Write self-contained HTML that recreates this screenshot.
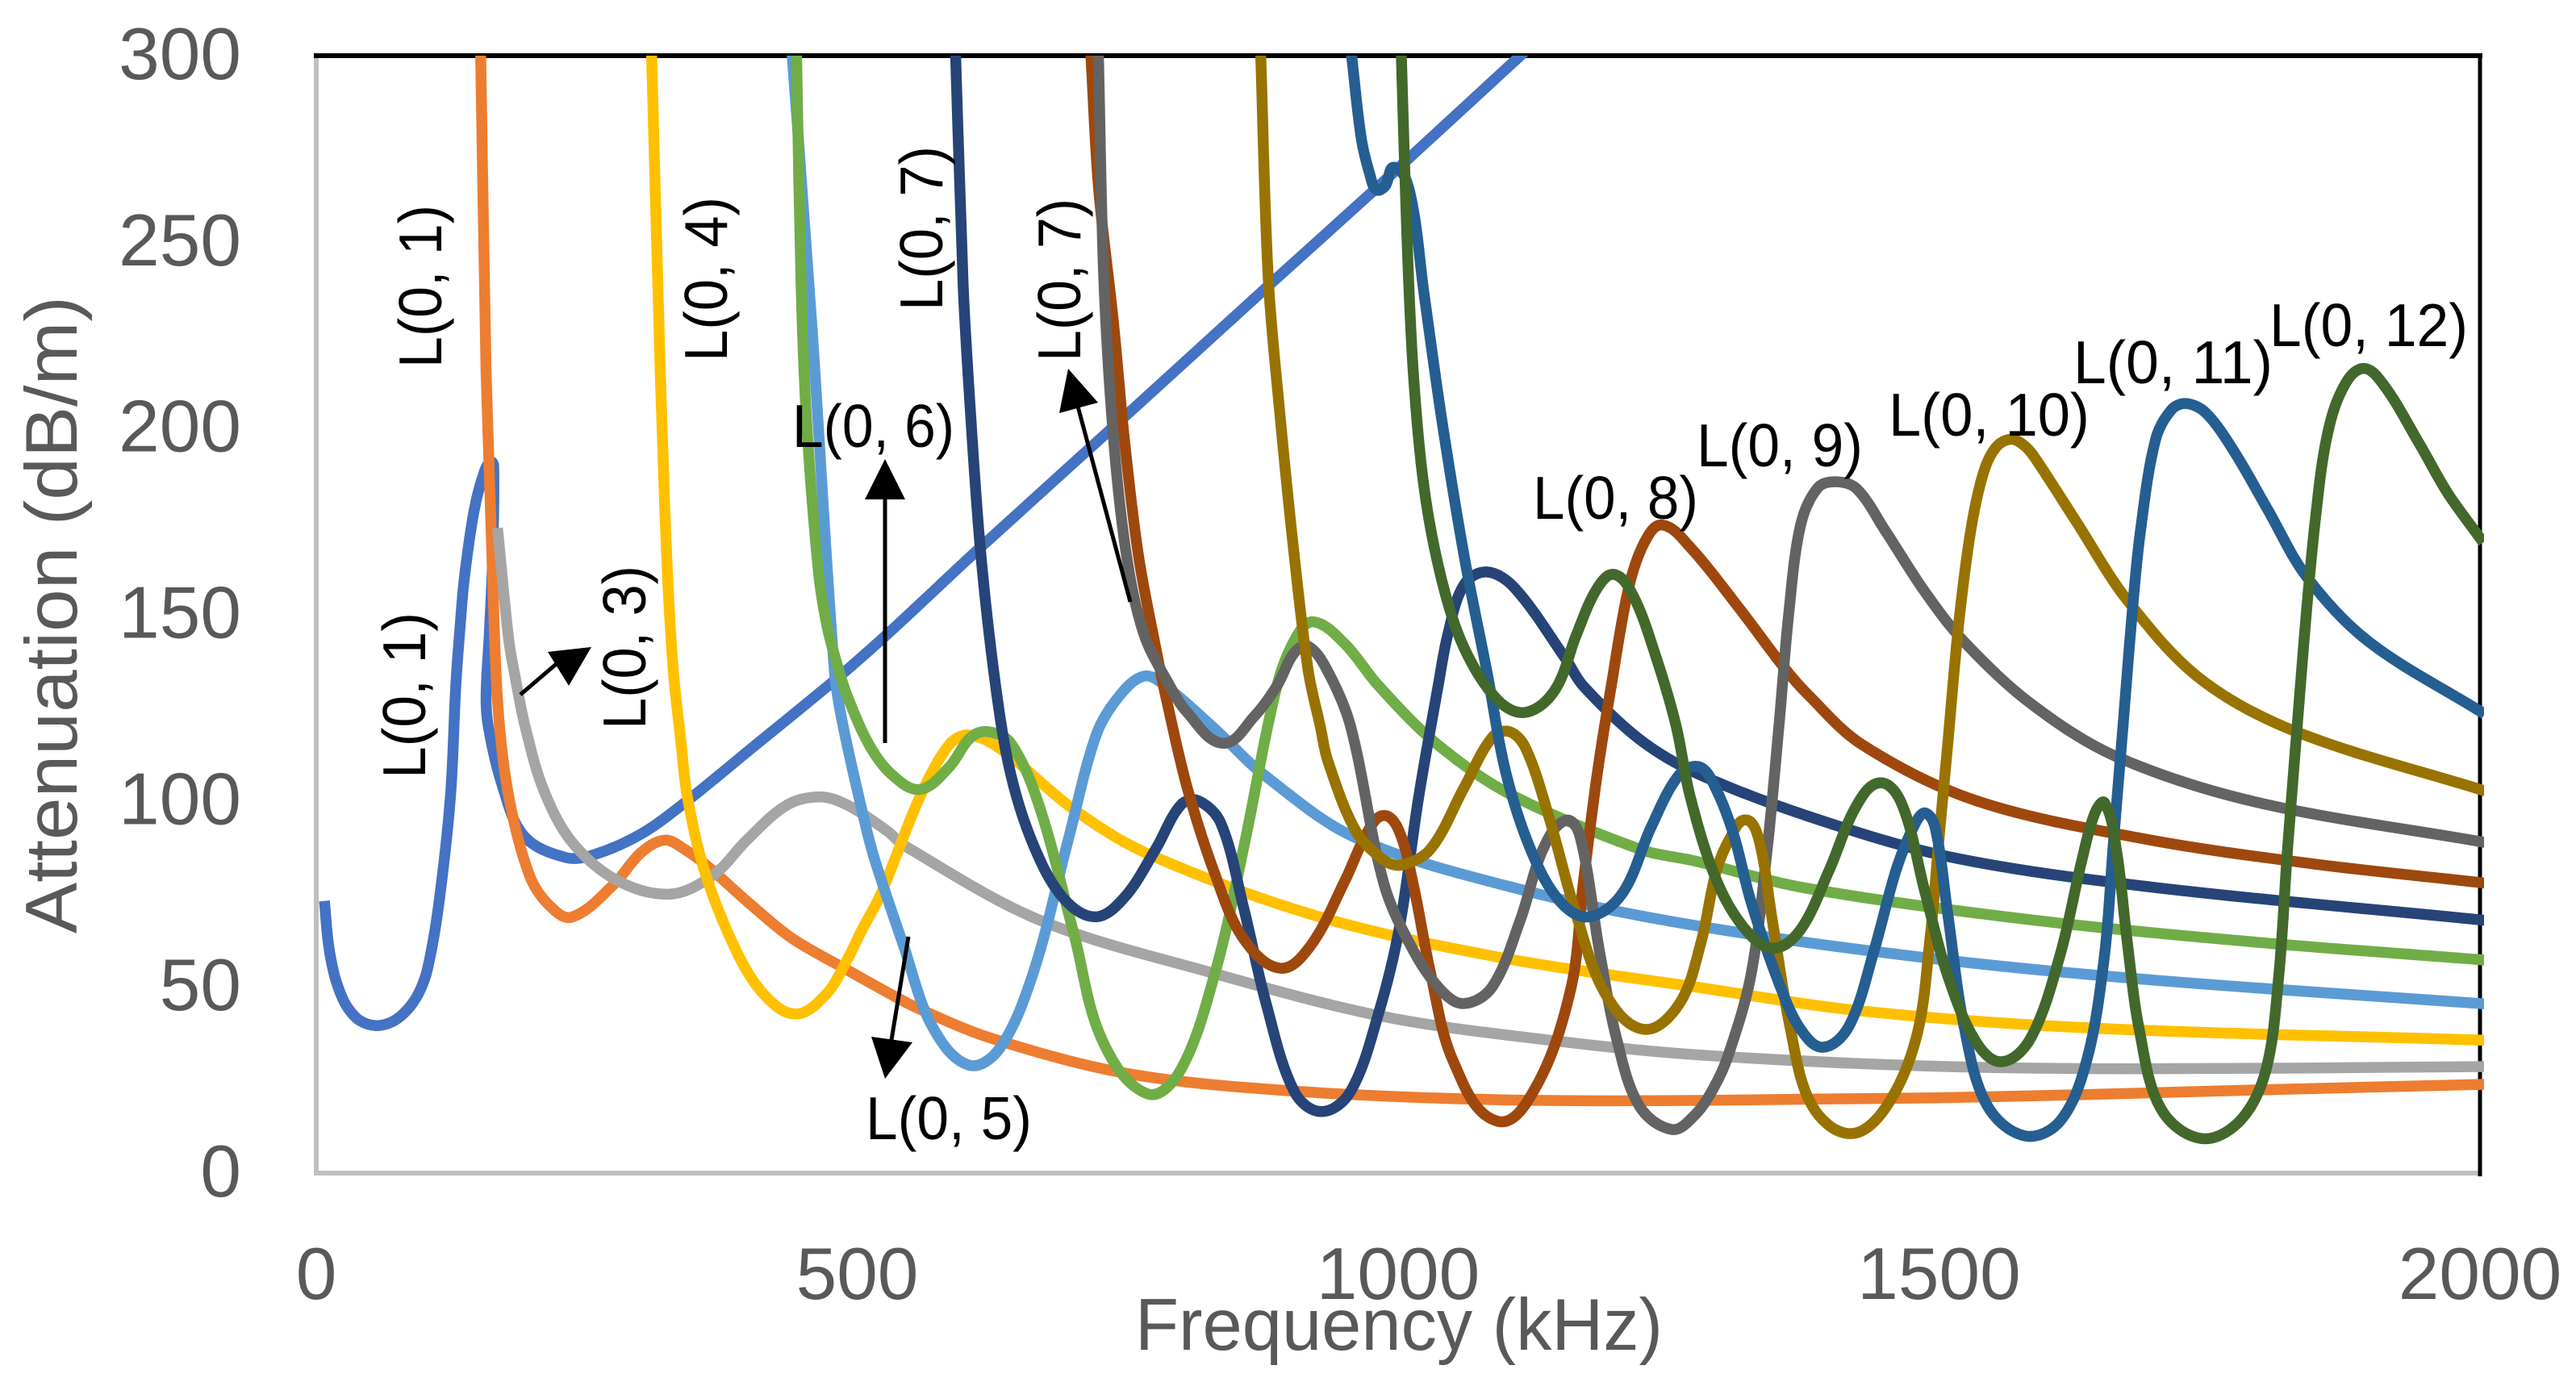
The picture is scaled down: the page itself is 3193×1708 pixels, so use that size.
<!DOCTYPE html>
<html lang="en">
<head>
<meta charset="utf-8">
<title>Attenuation vs Frequency</title>
<style>
html,body{margin:0;padding:0;background:#fff;width:3193px;height:1708px;overflow:hidden}
svg{display:block}
text{font-family:"Liberation Sans",sans-serif}
.tick{font-size:91px;fill:#595959}
.title{font-size:91px;fill:#595959}
.note{font-size:75px;fill:#000}
</style>
</head>
<body>
<svg id="chart" xmlns="http://www.w3.org/2000/svg" width="3193" height="1708" viewBox="0 0 3193 1708">
  <defs><clipPath id="plot-clip"><rect x="380" y="69" width="2699" height="1395"/></clipPath></defs>
  <rect x="0" y="0" width="3193" height="1708" fill="#fff"/>
  <line x1="392" y1="69" x2="392" y2="1457" stroke="#BFBFBF" stroke-width="6"/>
  <line x1="389" y1="1454" x2="3074" y2="1454" stroke="#BFBFBF" stroke-width="6"/>
  <line x1="389" y1="69" x2="3077" y2="69" stroke="#000" stroke-width="6"/>
  <line x1="3074" y1="66" x2="3074" y2="1458" stroke="#000" stroke-width="5"/>
  <g id="y-ticks"></g>
  <g id="x-ticks"></g>
  <g id="curves" clip-path="url(#plot-clip)"></g>

  <text class="title" transform="rotate(-90 95 1157)" x="95" y="1157" textLength="790" lengthAdjust="spacingAndGlyphs">Attenuation (dB/m)</text>
  <text class="title" x="1407" y="1673" textLength="654" lengthAdjust="spacingAndGlyphs">Frequency (kHz)</text>

  <text class="note" transform="rotate(-90 547 456)" x="547" y="456" textLength="202" lengthAdjust="spacingAndGlyphs">L(0, 1)</text>
  <text class="note" transform="rotate(-90 527 965)" x="527" y="965" textLength="206" lengthAdjust="spacingAndGlyphs">L(0, 1)</text>
  <text class="note" transform="rotate(-90 800 904)" x="800" y="904" textLength="203" lengthAdjust="spacingAndGlyphs">L(0, 3)</text>
  <text class="note" transform="rotate(-90 901 448)" x="901" y="448" textLength="204" lengthAdjust="spacingAndGlyphs">L(0, 4)</text>
  <text class="note" x="1073" y="1412" textLength="206" lengthAdjust="spacingAndGlyphs">L(0, 5)</text>
  <text class="note" x="982" y="554" textLength="201" lengthAdjust="spacingAndGlyphs">L(0, 6)</text>
  <text class="note" transform="rotate(-90 1168 385)" x="1168" y="385" textLength="204" lengthAdjust="spacingAndGlyphs">L(0, 7)</text>
  <text class="note" transform="rotate(-90 1339 448)" x="1339" y="448" textLength="202" lengthAdjust="spacingAndGlyphs">L(0, 7)</text>
  <text class="note" x="1900" y="643" textLength="205" lengthAdjust="spacingAndGlyphs">L(0, 8)</text>
  <text class="note" x="2103" y="578" textLength="206" lengthAdjust="spacingAndGlyphs">L(0, 9)</text>
  <text class="note" x="2341" y="540" textLength="249" lengthAdjust="spacingAndGlyphs">L(0, 10)</text>
  <text class="note" x="2570" y="475" textLength="247" lengthAdjust="spacingAndGlyphs">L(0, 11)</text>
  <text class="note" x="2813" y="429" textLength="246" lengthAdjust="spacingAndGlyphs">L(0, 12)</text>

  <g>
    <line x1="645" y1="861" x2="700" y2="814" stroke="#000" stroke-width="5"/>
    <polygon points="679,808 733,802 705,850" fill="#000"/>
  </g>
  <g>
    <line x1="1097" y1="921" x2="1097" y2="610" stroke="#000" stroke-width="5"/>
    <polygon points="1097,569 1072,619 1122,619" fill="#000"/>
  </g>
  <g>
    <line x1="1401" y1="746" x2="1335" y2="500" stroke="#000" stroke-width="5"/>
    <polygon points="1324,457 1313,512 1361,499" fill="#000"/>
  </g>
  <g>
    <line x1="1126" y1="1161" x2="1104" y2="1295" stroke="#000" stroke-width="5"/>
    <polygon points="1097,1337 1080,1285 1131,1292" fill="#000"/>
  </g>
</svg>
<script>
const xTickLabels = [0, 500, 1000, 1500, 2000];
const yTickLabels = [0, 50, 100, 150, 200, 250, 300];

const s1Freq = [8,11,16,22,29,40,55,70,84,95,103,113,124,129,133,137,146,155,161,164,163,160,157,159,171,192,231,257,300,341,398,482,529,614,747,883,982,1113];
const s1Atten = [71.6,62,54,48.5,44.4,41,39.6,40.6,43.8,48.5,55,71.6,101,131,147,160,178,188,191,190,165,145,128,120,105,90.5,84.7,85.5,91,99.5,113,133,145,168,203,239,265,300];

const s2Freq = [152,157,163,168,178,197,215,236,275,300,322,340,362,400,440,491,528,558,626,752,909,1092,1274,1534,1793,2000];
const s2Atten = [300,215,160,125,101,80,72,68.7,77.5,86,89.4,87,82.3,72.5,63,54.5,48.5,44,36,26.6,21.9,19.7,19.5,20.4,22.3,23.8];

const s3Freq = [168,178,184,193,210,236,278,327,367,398,435,466,491,528,543,668,825,987,1145,1274,1482,1690,2000];
const s3Atten = [171.7,143,133,120,103,89,78.6,74.9,80,89.4,98.8,101,98.8,91.8,88,68,54,42,35.5,31.8,28.8,28,28.6];

const s4Freq = [310,318,324,330,337,343,359,388,414,443,471,491,503,522,558,585,603,632,700,768,925,1092,1274,1429,1637,2000];
const s4Atten = [300,215,165,135,116,101,81,59.8,47.9,42.7,47.9,57.4,64.5,75,101,115,117.6,114,97.7,85.8,69,58,50,43.5,39,35.7];

const s5Freq = [440,458,479,487,508,517,543,569,603,632,663,695,721,742,765,784,836,873,961,1118,1274,1482,1690,2000];
const s5Atten = [300,228,134.7,120,93,83.4,60.9,39.6,29,33.6,54,89.4,117.7,128,133.4,131,117.8,107.6,90,75.8,66.5,58,52,45.5];

const s6Freq = [444,448,453,464,472,482,491,511,532,558,585,605,621,642,668,700,726,768,799,831,857,888,906,922,951,982,1035,1103,1223,1274,1377,1585,1793,2000];
const s6Atten = [300,240,203,162,147,136,128,115,107,103,109,117,118.5,115.4,98.8,64.6,36,21.3,27.7,54,87,130.8,144,148,142,130.8,115.4,101.8,87,83.8,76.5,68,62,57.3];

const s7Freq = [591,598,605,614,628,642,663,690,720,747,776,799,815,836,857,878,904,929,956,982,1001,1019,1037,1046,1061,1082,1108,1155,1171,1223,1274,1377,1508,1690,2000];
const s7Atten = [300,238,203,167,130.8,107,88,74,68.8,74,87,98.8,100,94,71.5,45.5,21.9,16.5,21.9,43,65.6,101,130.8,144.7,158,161.4,157,138,130.8,116.5,107.6,96,85,77,68];

const s8Freq = [716,723,737,747,760,776,786,805,831,857,891,919,951,972,987,1001,1014,1030,1051,1092,1129,1160,1171,1184,1197,1213,1228,1244,1270,1317,1356,1377,1429,1534,1690,1846,2000];
const s8Atten = [300,265,228,197,165.7,141,127,103.5,80,63,55,61,78.6,91.8,96,91.8,77.5,53.7,30,13.9,24,50,77.5,107,130.8,157,169.5,174,168,151,136,129,115,100,89.7,83,78];

const s9Freq = [723,728,737,749,765,789,805,838,867,888,904,917,935,956,987,1014,1040,1061,1087,1113,1134,1155,1168,1186,1202,1223,1253,1274,1291,1305,1326,1341,1352,1361,1372,1388,1405,1424,1450,1487,1523,1585,1664,1793,2000];
const s9Atten = [300,240,197,165.7,144.7,130.8,123.7,115.4,122.6,130.8,139.7,141.4,134.7,120,77.5,59.8,49,45.5,50,68,87,94.7,90.5,59.8,36,18,11.7,15.5,22.5,31.5,53,86.6,120,150,174,184,185.6,183.7,172.6,156,142.7,126,111.8,99.6,89];

const s10Freq = [873,880,891,904,917,928,935,961,987,1003,1030,1061,1087,1103,1118,1139,1165,1192,1227,1260,1280,1294,1307,1321,1333,1346,1362,1382,1417,1450,1479,1492,1500,1508,1518,1529,1541,1553,1567,1580,1591,1627,1674,1741,1830,2000];
const s10Atten = [300,240,203,165.7,134.7,120,110.7,91.8,84,82.7,87,103.5,117,118.5,114,96,69,47.9,38.6,45.5,62,81,90,94.8,90,67.6,39.6,18.4,10.6,17.3,36.4,64,90,115,147,172,188,195,197,195,191,174.8,153.8,132.8,118.5,103];

const s11Freq = [957,966,974,980,988,997,1011,1024,1040,1061,1082,1100,1124,1150,1176,1207,1234,1260,1279,1294,1310,1326,1352,1372,1393,1417,1440,1461,1479,1488,1497,1508,1523,1544,1579,1612,1637,1653,1661,1670,1679,1686,1700,1715,1729,1747,1773,1804,1840,1897,2000];
const s11Atten = [300,277.7,268,264,265,270,263,236,203,165.7,134.7,107,85.8,72.8,68.8,75,93,107,109,103,91,73,51,38.6,33.8,39.6,59.8,82,94.4,96.6,92,69.7,39.6,18.4,10,14,30.8,58.7,88,120,152,172,196.8,205,206.6,204,193.6,178,160,142.7,124];

const s12Freq = [1003,1008,1014,1024,1040,1061,1092,1118,1145,1165,1184,1200,1218,1239,1257,1270,1294,1321,1347,1372,1398,1424,1446,1466,1487,1508,1534,1558,1585,1612,1632,1644,1653,1664,1674,1685,1705,1742,1778,1802,1814,1822,1831,1840,1848,1858,1872,1891,1910,1944,1970,2000];
const s12Atten = [300,252.8,215,184,159.6,141,127,123.7,129.7,144.7,157,160.7,154.6,138,120,101,78.8,65.4,60.4,65.4,81,98.8,104.8,98.8,75.4,53,35.3,29.9,36.4,58.7,84,96.6,99.4,86.6,62,38.6,17.3,9.3,14,27.5,53,86.6,120,152,176,197,210,216,212,195.8,182.6,170.5];

const seriesFreqs = [s1Freq,s2Freq,s3Freq,s4Freq,s5Freq,s6Freq,s7Freq,s8Freq,s9Freq,s10Freq,s11Freq,s12Freq];
const seriesAttens = [s1Atten,s2Atten,s3Atten,s4Atten,s5Atten,s6Atten,s7Atten,s8Atten,s9Atten,s10Atten,s11Atten,s12Atten];
const seriesColors = ['#4472C4','#ED7D31','#A5A5A5','#FFC000','#5B9BD5','#70AD47','#264478','#9E480E','#636363','#997300','#255E91','#43682B'];

const NS = 'http://www.w3.org/2000/svg';
const xLeft = 392, xRight = 3074, yTop = 69, yBottom = 1454;
const xMax = 2000, yMax = 300;
function xScale(f){ return xLeft + (f / xMax) * (xRight - xLeft); }
function yScale(v){ return yBottom - (v / yMax) * (yBottom - yTop); }

function smoothPath(pts){
  let d = 'M' + pts[0][0].toFixed(1) + ' ' + pts[0][1].toFixed(1);
  function tangent(i){
    const a = pts[Math.max(i - 1, 0)], b = pts[Math.min(i + 1, pts.length - 1)];
    const dx = b[0] - a[0], dy = b[1] - a[1], len = Math.hypot(dx, dy) || 1;
    return [dx / len, dy / len];
  }
  for (let i = 0; i < pts.length - 1; i++){
    const p = pts[i], q = pts[i + 1];
    const seg = Math.hypot(q[0] - p[0], q[1] - p[1]) / 3;
    const t0 = tangent(i), t1 = tangent(i + 1);
    d += ' C' + (p[0] + t0[0] * seg).toFixed(1) + ' ' + (p[1] + t0[1] * seg).toFixed(1) +
         ' ' + (q[0] - t1[0] * seg).toFixed(1) + ' ' + (q[1] - t1[1] * seg).toFixed(1) +
         ' ' + q[0].toFixed(1) + ' ' + q[1].toFixed(1);
  }
  return d;
}

const yTickGroup = document.getElementById('y-ticks');
yTickLabels.forEach(function(v){
  const el = document.createElementNS(NS, 'text');
  el.setAttribute('class', 'tick');
  el.setAttribute('text-anchor', 'end');
  el.setAttribute('x', 299);
  el.setAttribute('y', yScale(v) + 29);
  
  
  el.textContent = String(v);
  yTickGroup.appendChild(el);
});

const xTickGroup = document.getElementById('x-ticks');
xTickLabels.forEach(function(v){
  const el = document.createElementNS(NS, 'text');
  el.setAttribute('class', 'tick');
  el.setAttribute('text-anchor', 'middle');
  el.setAttribute('x', xScale(v));
  el.setAttribute('y', 1610);
  
  
  el.textContent = String(v);
  xTickGroup.appendChild(el);
});

const curveGroup = document.getElementById('curves');
seriesFreqs.forEach(function(freqs, i){
  const vals = seriesAttens[i];
  const pts = freqs.map(function(f, k){ return [xScale(f), yScale(vals[k])]; });
  const el = document.createElementNS(NS, 'path');
  el.setAttribute('d', smoothPath(pts));
  el.setAttribute('fill', 'none');
  el.setAttribute('stroke', seriesColors[i]);
  el.setAttribute('stroke-width', '13.5');
  el.setAttribute('stroke-linecap', 'square');
  el.setAttribute('stroke-linejoin', 'round');
  
  
  curveGroup.appendChild(el);
});
</script>
</body>
</html>
